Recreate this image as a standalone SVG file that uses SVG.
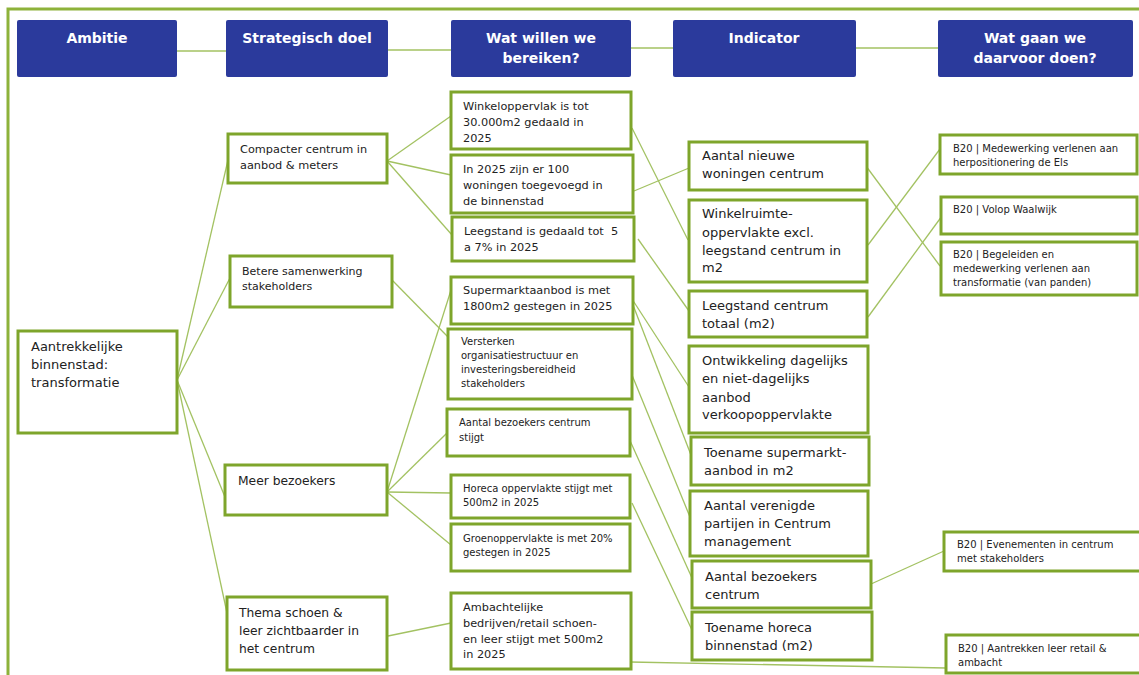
<svg xmlns="http://www.w3.org/2000/svg" width="1139" height="675" viewBox="0 0 1139 675">
<style>
.frame{fill:none;stroke:#8DB23A;stroke-width:3}
.hdr{fill:#2B3A9C}
.ht{font-family:"DejaVu Sans",Verdana,sans-serif;font-weight:bold;font-size:14px;fill:#fff;text-anchor:middle}
.box{fill:#fff;stroke:#7EA52B;stroke-width:3}
.t{font-family:"DejaVu Sans",Verdana,sans-serif;fill:#222}
.f13{font-size:13px}
.f12{font-size:12.3px}
.f115{font-size:11.3px}
.f11{font-size:11px}
.f10{font-size:10px}
.c{fill:none;stroke:#A3C262;stroke-width:1.3}
</style>
<rect x="0" y="0" width="1139" height="675" fill="#fff"/>
<rect class="frame" x="8" y="9" width="1140" height="680"/>
<g id="connectors">
<line class="c" x1="177" y1="51" x2="226" y2="51"/>
<line class="c" x1="388" y1="50" x2="451" y2="50"/>
<line class="c" x1="631" y1="48" x2="673" y2="48"/>
<line class="c" x1="856" y1="48" x2="938" y2="48"/>
<line class="c" x1="177" y1="380" x2="228" y2="160"/>
<line class="c" x1="177" y1="380" x2="230" y2="278"/>
<line class="c" x1="177" y1="380" x2="225" y2="497"/>
<line class="c" x1="177" y1="380" x2="227" y2="613"/>
<line class="c" x1="387" y1="161" x2="451" y2="116"/>
<line class="c" x1="387" y1="161" x2="451" y2="175"/>
<line class="c" x1="387" y1="161" x2="452" y2="235"/>
<line class="c" x1="392" y1="280" x2="449" y2="338"/>
<line class="c" x1="387" y1="492" x2="452" y2="287"/>
<line class="c" x1="387" y1="492" x2="447" y2="433"/>
<line class="c" x1="387" y1="492" x2="451" y2="493"/>
<line class="c" x1="387" y1="492" x2="451" y2="545"/>
<line class="c" x1="388" y1="636" x2="451" y2="623"/>
<line class="c" x1="632" y1="128" x2="688" y2="240"/>
<line class="c" x1="634" y1="191" x2="689" y2="168"/>
<line class="c" x1="638" y1="239" x2="689" y2="311"/>
<line class="c" x1="632" y1="299" x2="689" y2="387"/>
<line class="c" x1="633" y1="305" x2="691" y2="455"/>
<line class="c" x1="632" y1="375" x2="690" y2="517"/>
<line class="c" x1="627" y1="434" x2="692" y2="578"/>
<line class="c" x1="632" y1="503" x2="692" y2="630"/>
<line class="c" x1="630" y1="662" x2="946" y2="668"/>
<line class="c" x1="863" y1="162" x2="940" y2="266"/>
<line class="c" x1="868" y1="245" x2="940" y2="149"/>
<line class="c" x1="868" y1="317" x2="942" y2="216"/>
<line class="c" x1="871" y1="584" x2="944" y2="551"/>
</g>
<g id="h-ambitie"><rect class="hdr" x="17" y="20" width="160" height="57" rx="2"/><text class="ht" x="97" y="43">Ambitie</text></g>
<g id="h-doel"><rect class="hdr" x="226" y="20" width="162" height="57" rx="2"/><text class="ht" x="307" y="43">Strategisch doel</text></g>
<g id="h-wat"><rect class="hdr" x="451" y="20" width="180" height="57" rx="2"/><text class="ht" x="541" y="43">Wat willen we<tspan x="541" y="63">bereiken?</tspan></text></g>
<g id="h-indicator"><rect class="hdr" x="673" y="20" width="183" height="57" rx="2"/><text class="ht" x="764" y="43">Indicator</text></g>
<g id="h-doen"><rect class="hdr" x="938" y="20" width="195" height="57" rx="2"/><text class="ht" x="1035" y="43">Wat gaan we<tspan x="1035" y="63">daarvoor doen?</tspan></text></g>

<g id="a1"><rect class="box" x="18" y="331" width="159" height="102"/><text class="t f13" x="31" y="351">Aantrekkelijke<tspan x="31" y="369">binnenstad:</tspan><tspan x="31" y="387">transformatie</tspan></text></g>

<g id="s1"><rect class="box" x="228" y="134" width="159" height="49"/><text class="t f115" x="240" y="153">Compacter centrum in<tspan x="240" y="169">aanbod &amp; meters</tspan></text></g>
<g id="s2"><rect class="box" x="230" y="256" width="162" height="51"/><text class="t f11" x="242" y="275">Betere samenwerking<tspan x="242" y="290">stakeholders</tspan></text></g>
<g id="s3"><rect class="box" x="225" y="465" width="162" height="50"/><text class="t f12" x="238" y="485">Meer bezoekers</text></g>
<g id="s4"><rect class="box" x="227" y="597" width="160" height="73"/><text class="t f12" x="239" y="617">Thema schoen &amp;<tspan x="239" y="635">leer zichtbaarder in</tspan><tspan x="239" y="653">het centrum</tspan></text></g>

<g id="w1"><rect class="box" x="451" y="92" width="180" height="57"/><text class="t f115" x="463" y="110">Winkeloppervlak is tot<tspan x="463" y="126">30.000m2 gedaald in</tspan><tspan x="463" y="142">2025</tspan></text></g>
<g id="w2"><rect class="box" x="451" y="155" width="182" height="58"/><text class="t f115" x="463" y="173">In 2025 zijn er 100<tspan x="463" y="189">woningen toegevoegd in</tspan><tspan x="463" y="205">de binnenstad</tspan></text></g>
<g id="w3"><rect class="box" x="452" y="217" width="182" height="44"/><text class="t f115" x="464" y="235" xml:space="preserve">Leegstand is gedaald tot  5<tspan x="464" y="251">a 7% in 2025</tspan></text></g>
<g id="w4"><rect class="box" x="451" y="277" width="182" height="47"/><text class="t f115" x="463" y="294">Supermarktaanbod is met<tspan x="463" y="310">1800m2 gestegen in 2025</tspan></text></g>
<g id="w5"><rect class="box" x="448" y="329" width="184" height="70"/><text class="t f10" x="461" y="345">Versterken<tspan x="461" y="359">organisatiestructuur en</tspan><tspan x="461" y="373">investeringsbereidheid</tspan><tspan x="461" y="387">stakeholders</tspan></text></g>
<g id="w6"><rect class="box" x="447" y="409" width="183" height="47"/><text class="t f10" x="459" y="426">Aantal bezoekers centrum<tspan x="459" y="441">stijgt</tspan></text></g>
<g id="w7"><rect class="box" x="451" y="475" width="179" height="43"/><text class="t f10" x="463" y="492">Horeca oppervlakte stijgt met<tspan x="463" y="506">500m2 in 2025</tspan></text></g>
<g id="w8"><rect class="box" x="451" y="524" width="179" height="47"/><text class="t f10" x="463" y="542">Groenoppervlakte is met 20%<tspan x="463" y="556">gestegen in 2025</tspan></text></g>
<g id="w9"><rect class="box" x="451" y="593" width="180" height="76"/><text class="t f115" x="463" y="611">Ambachtelijke<tspan x="463" y="627">bedrijven/retail schoen-</tspan><tspan x="463" y="643">en leer stijgt met 500m2</tspan><tspan x="463" y="658">in 2025</tspan></text></g>

<g id="i1"><rect class="box" x="689" y="142" width="178" height="48"/><text class="t f13" x="702" y="160">Aantal nieuwe<tspan x="702" y="178">woningen centrum</tspan></text></g>
<g id="i2"><rect class="box" x="689" y="200" width="178" height="82"/><text class="t f13" x="702" y="218">Winkelruimte-<tspan x="702" y="237">oppervlakte excl.</tspan><tspan x="702" y="255">leegstand centrum in</tspan><tspan x="702" y="272">m2</tspan></text></g>
<g id="i3"><rect class="box" x="689" y="291" width="178" height="46"/><text class="t f13" x="702" y="310">Leegstand centrum<tspan x="702" y="328">totaal (m2)</tspan></text></g>
<g id="i4"><rect class="box" x="689" y="346" width="179" height="87"/><text class="t f13" x="702" y="365">Ontwikkeling dagelijks<tspan x="702" y="383">en niet-dagelijks</tspan><tspan x="702" y="402">aanbod</tspan><tspan x="702" y="419">verkoopoppervlakte</tspan></text></g>
<g id="i5"><rect class="box" x="691" y="437" width="178" height="48"/><text class="t f13" x="704" y="457">Toename supermarkt-<tspan x="704" y="475">aanbod in m2</tspan></text></g>
<g id="i6"><rect class="box" x="690" y="491" width="178" height="65"/><text class="t f13" x="704" y="510">Aantal verenigde<tspan x="704" y="528">partijen in Centrum</tspan><tspan x="704" y="546">management</tspan></text></g>
<g id="i7"><rect class="box" x="692" y="561" width="179" height="47"/><text class="t f13" x="705" y="581">Aantal bezoekers<tspan x="705" y="599">centrum</tspan></text></g>
<g id="i8"><rect class="box" x="692" y="612" width="180" height="48"/><text class="t f13" x="705" y="632">Toename horeca<tspan x="705" y="650">binnenstad (m2)</tspan></text></g>

<g id="b1"><rect class="box" x="940" y="135" width="197" height="39"/><text class="t f10" x="953" y="152">B20 | Medewerking verlenen aan<tspan x="953" y="166">herpositionering de Els</tspan></text></g>
<g id="b2"><rect class="box" x="941" y="197" width="196" height="37"/><text class="t f10" x="953" y="213">B20 | Volop Waalwijk</text></g>
<g id="b3"><rect class="box" x="941" y="242" width="196" height="53"/><text class="t f10" x="953" y="258">B20 | Begeleiden en<tspan x="953" y="272">medewerking verlenen aan</tspan><tspan x="953" y="286">transformatie (van panden)</tspan></text></g>
<g id="b4"><rect class="box" x="944" y="532" width="197" height="39"/><text class="t f10" x="957" y="548">B20 | Evenementen in centrum<tspan x="957" y="562">met stakeholders</tspan></text></g>
<g id="b5"><rect class="box" x="946" y="635" width="195" height="38"/><text class="t f10" x="958" y="652">B20 | Aantrekken leer retail &amp;<tspan x="958" y="666">ambacht</tspan></text></g>
</svg>
